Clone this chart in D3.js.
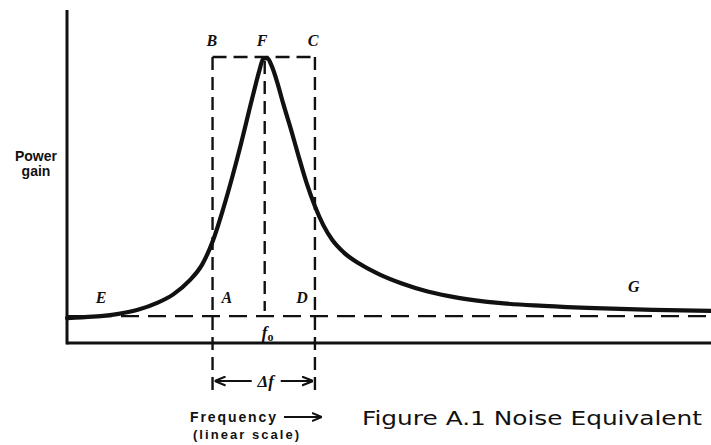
<!DOCTYPE html>
<html><head><meta charset="utf-8">
<script src="https://cdn.jsdelivr.net/npm/d3@7"></script>
<style>
html,body{margin:0;padding:0;background:#fff;}
svg{display:block;}
</style></head>
<body>
<svg id="c" width="711" height="445"></svg>
<script>
// Frequency (arbitrary linear units) and power gain (arbitrary units, peak = 100)
const freq = [0, 4, 8, 11, 14, 16.5, 19, 21, 22.7, 24.2, 25.6, 27.0, 28.2, 29.2, 29.9, 30.5, 31.1, 31.8, 32.6, 33.6, 34.8, 36.0, 37.2, 38.5, 39.8, 41.2, 43, 45.5, 48.5, 52, 56, 61, 67, 74, 82, 91, 100];
const gain = [8.7, 9.2, 10.2, 11.6, 14.0, 17.0, 21.8, 27.5, 36.0, 46.5, 57.5, 69.5, 80.5, 89.5, 95.5, 99.5, 99.6, 96.8, 91.5, 83.5, 74.5, 65.0, 56.0, 47.8, 41.2, 36.0, 31.6, 27.6, 24.0, 20.8, 18.0, 15.7, 14.0, 13.0, 12.2, 11.6, 11.2];
const baselineGain = 9.4;     // noise-equivalent level (dashed)
const peakGain = 100;
const bandLeft = 22.6, bandRight = 38.5, centerFreq = 30.7;
const pointLabels = [
  {t:"B", f:22.5, g:104}, {t:"F", f:30.3, g:104}, {t:"C", f:38.2, g:104},
  {t:"E", f:5.3, g:14}, {t:"A", f:24.8, g:14}, {t:"D", f:36.5, g:14}, {t:"G", f:88.0, g:18}
];

const svg = d3.select("#c");
const x = d3.scaleLinear().domain([0, 100]).range([67, 711]);
const y = d3.scaleLinear().domain([0, 100]).range([343, 57]);
const ink = "#111";

// axes (plain lines, no ticks)
svg.append("line").attr("x1", x(0)).attr("x2", x(0)).attr("y1", 10).attr("y2", y(0) + 1.5)
  .attr("stroke", ink).attr("stroke-width", 3);
svg.append("line").attr("x1", x(0)).attr("x2", x(100)).attr("y1", y(0)).attr("y2", y(0))
  .attr("stroke", ink).attr("stroke-width", 2.8);

// dashed noise-equivalent baseline
svg.append("line").attr("x1", x(0)).attr("x2", x(100)).attr("y1", y(baselineGain)).attr("y2", y(baselineGain))
  .attr("stroke", ink).attr("stroke-width", 2.4).attr("stroke-dasharray", "18,9");

// dashed rectangle B-C with verticals extending below the axis
const rectTop = y(peakGain);
const dashV = "13,7";
[bandLeft, bandRight].forEach(f => {
  svg.append("line").attr("x1", x(f)).attr("x2", x(f)).attr("y1", rectTop).attr("y2", 392)
    .attr("stroke", ink).attr("stroke-width", 2.4).attr("stroke-dasharray", dashV);
});
svg.append("line").attr("x1", x(bandLeft)).attr("x2", x(bandRight)).attr("y1", rectTop).attr("y2", rectTop)
  .attr("stroke", ink).attr("stroke-width", 2.4).attr("stroke-dasharray", "14,7");
svg.append("line").attr("x1", x(centerFreq)).attr("x2", x(centerFreq)).attr("y1", rectTop + 4).attr("y2", y(baselineGain) - 5)
  .attr("stroke", ink).attr("stroke-width", 2.4).attr("stroke-dasharray", dashV);

// response curve
const pts = freq.map((f, i) => [f, gain[i]]);
svg.append("path").datum(pts)
  .attr("d", d3.line().x(d => x(d[0])).y(d => y(d[1])).curve(d3.curveMonotoneX))
  .attr("fill", "none").attr("stroke", ink).attr("stroke-width", 4.2).attr("stroke-linecap", "round");

// point labels
svg.selectAll("text.pl").data(pointLabels).enter().append("text")
  .attr("class", "pl")
  .attr("x", d => x(d.f)).attr("y", d => y(d.g))
  .attr("text-anchor", "middle")
  .attr("font-family", "Liberation Serif, DejaVu Serif, serif")
  .attr("font-style", "italic").attr("font-weight", "bold").attr("font-size", 16)
  .attr("fill", ink).text(d => d.t);

// f0 label
const f0 = svg.append("text").attr("x", x(centerFreq) + 3).attr("y", 338)
  .attr("text-anchor", "middle")
  .attr("font-family", "Liberation Serif, DejaVu Serif, serif")
  .attr("font-style", "italic").attr("font-weight", "bold").attr("font-size", 17).attr("fill", ink);
f0.append("tspan").text("f");
f0.append("tspan").attr("font-size", 12).attr("font-style", "normal").attr("dy", 3).text("o");

// arrowhead marker
const defs = svg.append("defs");
defs.append("marker").attr("id", "ah").attr("viewBox", "0 0 10 10").attr("refX", 10).attr("refY", 5)
  .attr("markerWidth", 5).attr("markerHeight", 5).attr("orient", "auto-start-reverse")
  .append("path").attr("d", "M0,1 L10,5 L0,9").attr("fill", "none").attr("stroke", ink).attr("stroke-width", 2);

// Δf arrow
const ay = 381;
svg.append("line").attr("x1", x(bandLeft) + 2).attr("x2", x(centerFreq) - 13).attr("y1", ay).attr("y2", ay)
  .attr("stroke", ink).attr("stroke-width", 2.2).attr("marker-start", "url(#ah)");
svg.append("line").attr("x1", x(centerFreq) + 16).attr("x2", x(bandRight) - 2).attr("y1", ay).attr("y2", ay)
  .attr("stroke", ink).attr("stroke-width", 2.2).attr("marker-end", "url(#ah)");
svg.append("text").attr("x", x(centerFreq) + 1).attr("y", ay + 6).attr("text-anchor", "middle")
  .attr("font-family", "Liberation Serif, DejaVu Serif, serif")
  .attr("font-style", "italic").attr("font-weight", "bold").attr("font-size", 17).attr("fill", ink)
  .text("\u0394f");

// axis titles
const sans = "Liberation Sans, Arial, sans-serif";
svg.append("text").attr("x", 36).attr("y", 161).attr("text-anchor", "middle")
  .attr("font-family", sans).attr("font-weight", "bold").attr("font-size", 14).attr("fill", ink).text("Power");
svg.append("text").attr("x", 36).attr("y", 176).attr("text-anchor", "middle")
  .attr("font-family", sans).attr("font-weight", "bold").attr("font-size", 14).attr("fill", ink).text("gain");
svg.append("text").attr("x", 190).attr("y", 422)
  .attr("font-family", sans).attr("font-weight", "bold").attr("font-size", 14).attr("fill", ink)
  .attr("textLength", 86).attr("lengthAdjust", "spacing").text("Frequency");
svg.append("line").attr("x1", 284).attr("x2", 322).attr("y1", 417).attr("y2", 417)
  .attr("stroke", ink).attr("stroke-width", 2).attr("marker-end", "url(#ah)");
svg.append("text").attr("x", 193).attr("y", 439)
  .attr("font-family", sans).attr("font-weight", "bold").attr("font-size", 13).attr("fill", ink)
  .attr("textLength", 106).attr("lengthAdjust", "spacing").text("(linear scale)");

// caption
svg.append("text").attr("x", 362).attr("y", 425)
  .attr("font-family", "DejaVu Sans, sans-serif").attr("font-size", 20).attr("fill", ink)
  .attr("textLength", 340).attr("lengthAdjust", "spacingAndGlyphs")
  .text("Figure A.1  Noise Equivalent");
</script>
</body></html>
